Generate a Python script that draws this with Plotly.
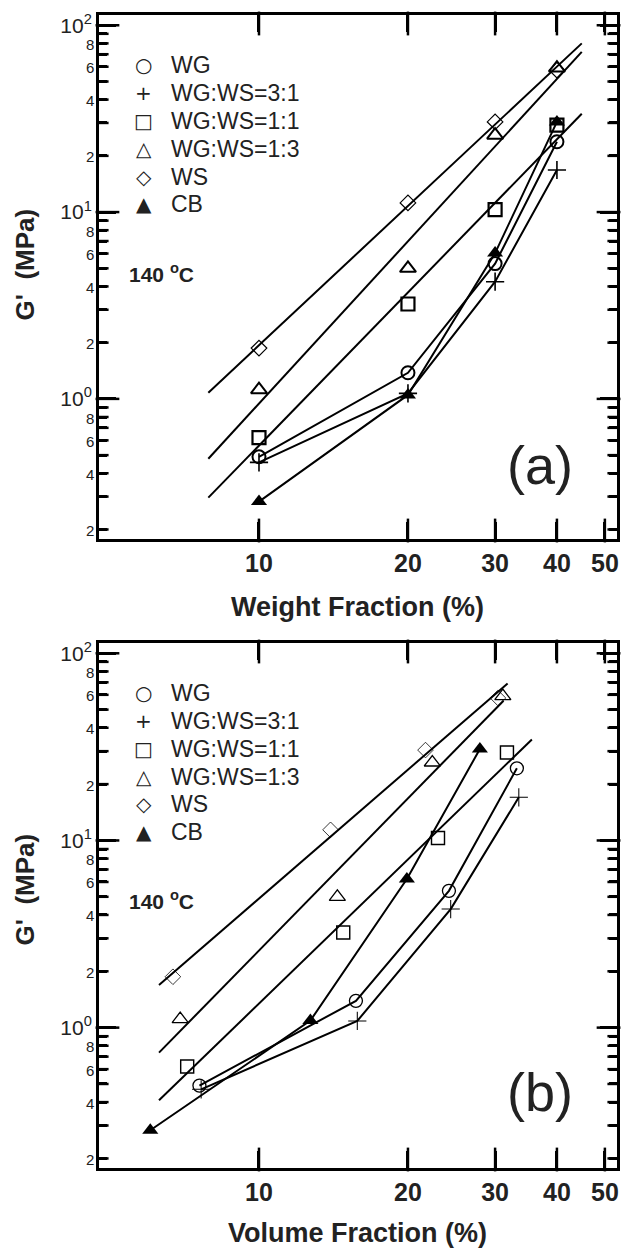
import plotly.graph_objects as go
import numpy as np

# ---------------- data ----------------
series_names = ["WG", "WG:WS=3:1", "WG:WS=1:1", "WG:WS=1:3", "WS", "CB"]

# (a) weight fraction
wt_x = [10, 20, 30, 40]
wt_WG = [0.49, 1.38, 5.3, 23.8]
wt_WG_WS_3_1 = [0.457, 1.07, 4.24, 16.8]
wt_WG_WS_1_1 = [0.62, 3.22, 10.3, 29.2]
wt_WG_WS_1_3 = [1.12, 5.0, 25.8, 59.0]
wt_WS = [1.87, 11.2, 30.4, 57.5]
wt_CB = [0.282, 1.05, 6.03, 30.4]

# (a) straight fit lines (end points)
wt_fit_x = [7.9, 44.9]
wt_fit_WS = [1.08, 80.0]
wt_fit_1_3 = [0.478, 72.0]
wt_fit_1_1 = [0.296, 33.6]

# (b) volume fraction
vol_x_WG = [7.58, 15.7, 24.2, 33.2]
vol_WG = [0.49, 1.39, 5.38, 24.3]
vol_x_3_1 = [7.64, 15.8, 24.4, 33.5]
vol_WG_WS_3_1 = [0.468, 1.086, 4.30, 17.0]
vol_x_1_1 = [7.16, 14.8, 23.0, 31.7]
vol_WG_WS_1_1 = [0.62, 3.22, 10.3, 29.5]
vol_x_1_3 = [6.93, 14.4, 22.4, 31.1]
vol_WG_WS_1_3 = [1.11, 5.0, 26.1, 59.0]
vol_x_WS = [6.7, 13.95, 21.7, 30.4]
vol_WS = [1.87, 11.4, 30.4, 57.7]
vol_x_CB = [6.03, 12.7, 19.9, 27.95]
vol_CB = [0.283, 1.09, 6.22, 30.8]

# (b) straight fit lines
vol_fit_WS_x = [6.28, 31.8]
vol_fit_WS = [1.69, 69.0]
vol_fit_1_3_x = [6.28, 31.2]
vol_fit_1_3 = [0.735, 55.8]
vol_fit_1_1_x = [6.28, 35.6]
vol_fit_1_1 = [0.409, 34.6]

# axis ticks
x_tickvals = [10, 20, 30, 40, 50]
x_ticktext = ["<b>10</b>", "<b>20</b>", "<b>30</b>", "<b>40</b>", "<b>50</b>"]
y_major_vals = [1, 10, 100]
y_major_text = ["10<sup>0</sup>", "10<sup>1</sup>", "10<sup>2</sup>"]
y_minor_vals = [0.2, 0.3, 0.4, 0.5, 0.6, 0.7, 0.8, 0.9,
                2, 3, 4, 5, 6, 7, 8, 9,
                20, 30, 40, 50, 60, 70, 80, 90]
y_minor_label_vals = [0.2, 0.4, 0.6, 0.8, 2, 4, 6, 8, 20, 40, 60, 80]
y_minor_label_text = ["2", "4", "6", "8", "2", "4", "6", "8", "2", "4", "6", "8"]

# legend glyphs (symbol drawn as text)
legend_glyphs = ["\u25CB", "+", "\u25A1", "\u25B3", "\u25C7", "\u25B2"]

# ---------------- styling ----------------
FONT = "Liberation Sans"
TXT = "#222222"
W, H = 626, 1249
ML, MR, MT, MB = 99, 6, 15, 81
PW = W - ML - MR
PH = H - MT - MB


def xp(px):
    return (px - ML) / PW


def yp(py):
    return (H - MB - py) / PH


top_dom = [yp(539), 1.0]
bot_dom = [0.0, yp(643)]

xrange = [float(np.log10(4.75)), float(np.log10(52.9))]
yrange = [-0.75, 2.055]

sym = {
    "WG": dict(symbol="circle-open", size=13, lw=2),
    "WG:WS=3:1": dict(symbol="cross-thin-open", size=13, lw=1.6),
    "WG:WS=1:1": dict(symbol="square-open", size=13, lw=2.2),
    "WG:WS=1:3": dict(symbol="triangle-up-open", size=14, lw=2),
    "WS": dict(symbol="diamond-open", size=12, lw=1.2),
    "CB": dict(symbol="triangle-up", size=14, lw=0),
}

fig = go.Figure()


def tick_marks(xa, ya, ph):
    """Tick marks of one panel drawn as line-shaped markers, placed from the tick value arrays."""
    xspan = xrange[1] - xrange[0]
    yspan = yrange[1] - yrange[0]
    # x ticks (vertical marks at bottom and top)
    half = 8.5 / ph * yspan
    tx, ty = [], []
    for v in x_tickvals:
        tx += [v, v]
        ty += [10 ** (yrange[0] + half), 10 ** (yrange[1] - half)]
    fig.add_trace(go.Scatter(x=tx, y=ty, mode="markers", showlegend=False, hoverinfo="skip",
                             cliponaxis=False,
                             marker=dict(symbol="line-ns", size=17, color="black",
                                         line=dict(width=2.5, color="black")),
                             xaxis=xa, yaxis=ya))
    # y ticks (horizontal marks at left and right)
    for vals, lpx in [(y_major_vals, 17), (y_minor_vals, 8)]:
        hx = lpx / 2 / PW * xspan
        sx, sy = [], []
        for v in vals:
            sx += [10 ** (xrange[0] + hx), 10 ** (xrange[1] - hx)]
            sy += [v, v]
        fig.add_trace(go.Scatter(x=sx, y=sy, mode="markers", showlegend=False, hoverinfo="skip",
                                 cliponaxis=False,
                                 marker=dict(symbol="line-ew", size=lpx, color="black",
                                             line=dict(width=2.5, color="black")),
                                 xaxis=xa, yaxis=ya))


top_series = [wt_WG, wt_WG_WS_3_1, wt_WG_WS_1_1, wt_WG_WS_1_3, wt_WS, wt_CB]
bot_series = [(vol_x_WG, vol_WG), (vol_x_3_1, vol_WG_WS_3_1), (vol_x_1_1, vol_WG_WS_1_1),
              (vol_x_1_3, vol_WG_WS_1_3), (vol_x_WS, vol_WS), (vol_x_CB, vol_CB)]

line_style = dict(color="black", width=2)

for yy in [wt_fit_WS, wt_fit_1_3, wt_fit_1_1]:
    fig.add_trace(go.Scatter(x=wt_fit_x, y=yy, mode="lines", line=line_style,
                             showlegend=False, xaxis="x", yaxis="y"))
for yy in [wt_WG, wt_WG_WS_3_1, wt_CB]:
    fig.add_trace(go.Scatter(x=wt_x, y=yy, mode="lines", line=line_style,
                             showlegend=False, xaxis="x", yaxis="y"))
for xx, yy in [(vol_fit_WS_x, vol_fit_WS), (vol_fit_1_3_x, vol_fit_1_3), (vol_fit_1_1_x, vol_fit_1_1)]:
    fig.add_trace(go.Scatter(x=xx, y=yy, mode="lines", line=line_style,
                             showlegend=False, xaxis="x2", yaxis="y2"))
for xx, yy in [bot_series[0], bot_series[1], bot_series[5]]:
    fig.add_trace(go.Scatter(x=xx, y=yy, mode="lines", line=line_style,
                             showlegend=False, xaxis="x2", yaxis="y2"))

for name, yy in zip(series_names, top_series):
    s = sym[name]
    fig.add_trace(go.Scatter(x=wt_x, y=yy, mode="markers", name=name, showlegend=False,
                             marker=dict(symbol=s["symbol"], size=s["size"], color="black",
                                         line=dict(width=s["lw"], color="black")),
                             xaxis="x", yaxis="y"))
for name, (xx, yy) in zip(series_names, bot_series):
    s = sym[name]
    fig.add_trace(go.Scatter(x=xx, y=yy, mode="markers", name=name, showlegend=False,
                             marker=dict(symbol=s["symbol"], size=s["size"], color="black",
                                         line=dict(width=s["lw"] * 0.65, color="black")),
                             xaxis="x2", yaxis="y2"))

tick_marks("x", "y", 539 - 15)
tick_marks("x2", "y2", 1168 - 643)

xax = dict(type="log", range=xrange, tickvals=x_tickvals, ticktext=x_ticktext,
           ticks="inside", ticklen=17, tickwidth=3, tickcolor="black",
           showline=True, linewidth=3, linecolor="black", mirror="ticks",
           showgrid=False, zeroline=False,
           tickfont=dict(family=FONT, size=25, color=TXT))
yax = dict(type="log", range=yrange, tickvals=y_major_vals, ticktext=y_major_text,
           ticks="inside", ticklen=17, tickwidth=3, tickcolor="black",
           minor=dict(tickvals=y_minor_vals, ticks="inside", ticklen=8, tickwidth=3, tickcolor="black"),
           showline=True, linewidth=3, linecolor="black", mirror="ticks",
           showgrid=False, zeroline=False,
           tickfont=dict(family=FONT, size=21, color=TXT))

fig.update_layout(
    width=W, height=H,
    margin=dict(l=ML, r=MR, t=MT, b=MB),
    plot_bgcolor="white",
    showlegend=False,
    xaxis=dict(xax, anchor="y"),
    yaxis=dict(yax, domain=top_dom, anchor="x"),
    xaxis2=dict(xax, anchor="y2"),
    yaxis2=dict(yax, domain=bot_dom, anchor="x2"),
)

ann = []
for yr in ["y", "y2"]:
    for v, t in zip(y_minor_label_vals, y_minor_label_text):
        ly = float(np.log10(v))
        ann.append(dict(xref="paper", yref=yr, x=xp(96), y=ly, xanchor="right", yanchor="middle",
                        yshift=-1, text=t, showarrow=False, font=dict(family=FONT, size=15, color=TXT)))

legend_rows_top = [65, 93, 121, 149, 177, 204]
legend_rows_bot = [693, 721, 749, 777, 804, 832]
for rows in [legend_rows_top, legend_rows_bot]:
    for g, name, ry in zip(legend_glyphs, series_names, rows):
        ann.append(dict(xref="paper", yref="paper", x=xp(144), y=yp(ry), xanchor="center", yanchor="middle",
                        text=g, showarrow=False, font=dict(family="DejaVu Sans", size=20, color=TXT)))
        ann.append(dict(xref="paper", yref="paper", x=xp(169), y=yp(ry), xanchor="left", yanchor="middle",
                        text=name, showarrow=False, font=dict(family=FONT, size=23, color=TXT)))

for cy_t, cy_a, lab_a, ax_title, cy_title, cy_y in [
        (273, 465, "(a)", "Weight Fraction (%)", 607, 264),
        (900, 1092, "(b)", "Volume Fraction (%)", 1233, 889)]:
    ann.append(dict(xref="paper", yref="paper", x=xp(127), y=yp(cy_t), xanchor="left", yanchor="middle",
                    text="<b>140 <sup>o</sup>C</b>", showarrow=False,
                    font=dict(family=FONT, size=21, color=TXT)))
    ann.append(dict(xref="paper", yref="paper", x=xp(543), y=yp(cy_a), xanchor="center", yanchor="middle",
                    text=lab_a, showarrow=False, font=dict(family=FONT, size=54, color=TXT)))
    ann.append(dict(xref="paper", yref="paper", x=xp(359), y=yp(cy_title), xanchor="center", yanchor="middle",
                    text="<b>%s</b>" % ax_title, showarrow=False,
                    font=dict(family=FONT, size=27, color=TXT)))
    ann.append(dict(xref="paper", yref="paper", x=xp(25), y=yp(cy_y), xanchor="center", yanchor="middle",
                    text="<b>G'  (MPa)</b>", textangle=-90, showarrow=False,
                    font=dict(family=FONT, size=26, color=TXT)))
fig.update_layout(annotations=ann)

fig.write_html("out.html", config={"staticPlot": True})
